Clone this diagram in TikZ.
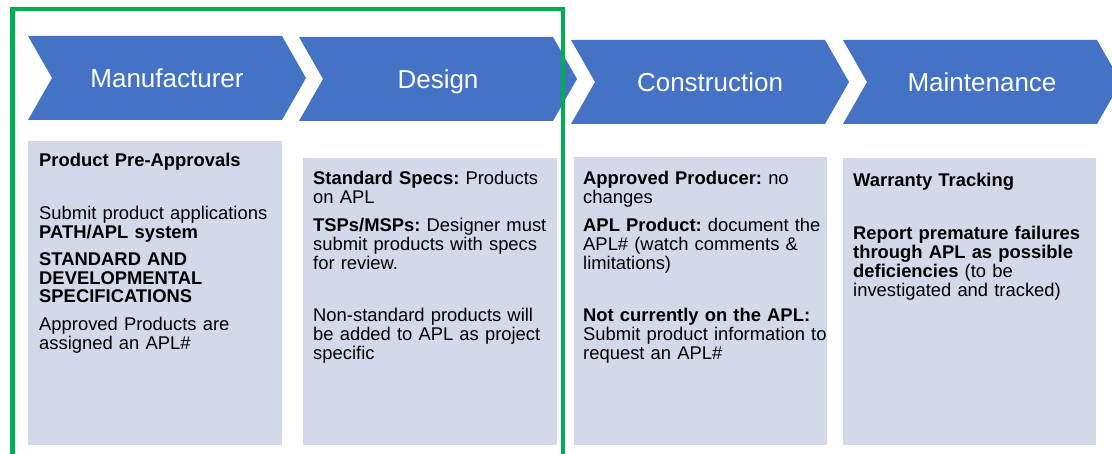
\documentclass[tikz,border=0pt]{standalone}
\usepackage{fontspec}
\setmainfont{Liberation Sans}
\frenchspacing
\definecolor{chevblue}{HTML}{4472C4}
\definecolor{panelfill}{HTML}{D4D9EA}
\definecolor{framegreen}{HTML}{00B050}
\tikzset{
  chev/.style={fill=chevblue},
  chevtext/.style={text=white, inner sep=0pt, anchor=base, font={\fontsize{26bp}{30bp}\selectfont}},
  panel/.style={fill=panelfill, inner sep=0pt, anchor=north west},
  paneltext/.style={anchor=base west, inner sep=0pt, text width=280bp, align=left,
    font={\fontsize{18.4bp}{18.8bp}\selectfont}},
  frame/.style={draw=framegreen, line width=4.5bp},
}
% chevron: name, left x, top y, label
\newcommand{\chevron}[4]{%
  \fill[chev] (#2,#3) -- ++(254,0) -- ++(24,42) -- ++(-24,42) -- ++(-254,0) -- ++(24,-42) -- cycle;
  \node[chevtext] (#1) at (#2+139,#3+51.3) {#4};
}
\begin{document}
\begin{tikzpicture}[x=1bp,y=-1bp]
  \useasboundingbox (0,0) rectangle (1112,454);
  \clip (0,0) rectangle (1112,454);
%%
  % Chevrons
  \chevron{manu}{28}{36}{Manufacturer}
  \chevron{design}{299}{37}{Design}
  \chevron{constr}{571}{40}{Construction}
  \chevron{maint}{843}{40}{Maintenance}
  % Panels
  \node[panel, minimum width=254bp, minimum height=304bp] (p1) at (28,141) {};
  \node[panel, minimum width=254bp, minimum height=287bp] (p2) at (303,158) {};
  \node[panel, minimum width=253bp, minimum height=288bp] (p3) at (574,157) {};
  \node[panel, minimum width=253bp, minimum height=287bp] (p4) at (843,158) {};
  % Panel texts
  \node[paneltext] (t1) at (39,167) {\textbf{Product Pre-Approvals}\\[34bp]
    Submit product applications\\
    \textbf{PATH/APL system}\\[8bp]
    \textbf{STANDARD AND}\\
    \textbf{DEVELOPMENTAL}\\
    \textbf{SPECIFICATIONS}\\[9bp]
    Approved Products are\\
    assigned an APL\#};
  \node[paneltext] (t2) at (313,185) {\textbf{Standard Specs:} Products\\
    on APL\\[9bp]
    \textbf{TSPs/MSPs:} Designer must\\
    submit products with specs\\
    for review.\\[34bp]
    Non-standard products will\\
    be added to APL as project\\
    specific};
  \node[paneltext] (t3) at (583,185) {\textbf{Approved Producer:} no\\
    changes\\[9bp]
    \textbf{APL Product:} document the\\
    APL\# (watch comments \&\\
    limitations)\\[34bp]
    \textbf{Not currently on the APL:}\\
    Submit product information to\\
    request an APL\#};
  \node[paneltext] (t4) at (853,187) {\textbf{Warranty Tracking}\\[34bp]
    \textbf{Report premature failures}\\
    \textbf{through APL as possible}\\
    \textbf{deficiencies} (to be\\
    investigated and tracked)};
  % Green frame
  \draw[frame] (12.5,9) rectangle (563,470);
%
\end{tikzpicture}
\end{document}
